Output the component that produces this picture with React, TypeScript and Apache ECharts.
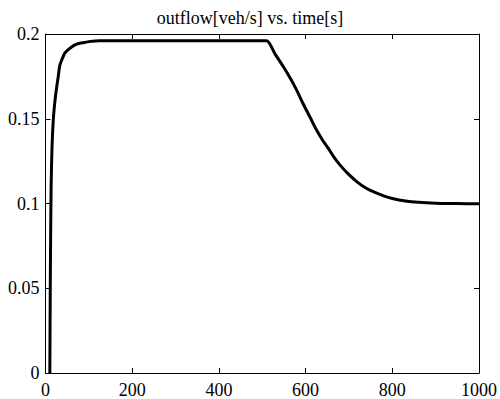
import React, { useEffect, useRef } from "react";
import * as echarts from "echarts";

const titleText = "outflow[veh/s] vs. time[s]";
const timeS = [10, 11, 12, 13, 15, 18, 22, 26, 30, 33, 38, 44, 49, 56, 64, 72, 79, 90, 100, 125, 150, 200, 300, 400, 500, 510, 530, 548, 560, 571, 583, 594, 610, 625, 640, 652, 665, 680, 700, 720, 740, 760, 780, 800, 830, 860, 900, 950, 1000];
const outflow = [0, 0.05, 0.085, 0.11, 0.133, 0.1495, 0.161, 0.169, 0.176, 0.1815, 0.185, 0.1885, 0.190, 0.1915, 0.193, 0.194, 0.1945, 0.195, 0.1955, 0.196, 0.196, 0.196, 0.196, 0.196, 0.196, 0.196, 0.188, 0.181, 0.176, 0.171, 0.165, 0.159, 0.151, 0.1435, 0.137, 0.1327, 0.1275, 0.1225, 0.117, 0.1125, 0.109, 0.1065, 0.1045, 0.103, 0.1015, 0.1007, 0.1002, 0.1, 0.0998];
const xTicks = { min: 0, max: 1000, interval: 200 };
const yTicks = { min: 0, max: 0.2, interval: 0.05 };

export default function App() {
  const ref = useRef<HTMLDivElement>(null);
  useEffect(() => {
    if (!ref.current) return;
    const chart = echarts.init(ref.current, null, { renderer: "svg" });
    const font = "Liberation Serif";
    const axisLine = { show: true, onZero: false, lineStyle: { color: "#000", width: 1 } };
    const tick = { show: true, inside: true, length: 5, lineStyle: { color: "#000", width: 1 } };
    const richLabel = {
      t: { fontFamily: font, fontSize: 18, color: "#000", fontWeight: "normal" },
    };
    chart.setOption({
      animation: false,
      backgroundColor: "#fff",
      textStyle: { fontFamily: font },
      title: {
        text: titleText,
        left: "center",
        top: 4,
        textStyle: { fontFamily: font, fontSize: 18, fontWeight: "normal", color: "#000" },
      },
      grid: { left: 45.5, right: 20.5, top: 34, bottom: 25, containLabel: false },
      xAxis: [
        {
          type: "value",
          position: "bottom",
          ...xTicks,
          axisLine,
          axisTick: tick,
          splitLine: { show: false },
          axisLabel: {
            fontFamily: font,
            fontSize: 18,
            color: "#000",
            margin: 8,
            formatter: (v: number) => "{t|" + String(v) + "}",
            rich: richLabel,
          },
        },
        {
          type: "value",
          position: "top",
          ...xTicks,
          axisLine,
          axisTick: tick,
          splitLine: { show: false },
          axisLabel: { show: false },
        },
      ],
      yAxis: [
        {
          type: "value",
          position: "left",
          ...yTicks,
          axisLine,
          axisTick: tick,
          splitLine: { show: false },
          axisLabel: {
            fontFamily: font,
            fontSize: 18,
            color: "#000",
            margin: 6,
            formatter: (v: number) => "{t|" + String(v) + "}",
            rich: richLabel,
          },
        },
        {
          type: "value",
          position: "right",
          ...yTicks,
          axisLine,
          axisTick: tick,
          splitLine: { show: false },
          axisLabel: { show: false },
        },
      ],
      series: [
        {
          type: "line",
          xAxisIndex: 0,
          yAxisIndex: 0,
          data: timeS.map((t, i) => [t, outflow[i]]),
          showSymbol: false,
          smooth: 0.3,
          lineStyle: { color: "#000", width: 3 },
        },
      ],
    });
    return () => chart.dispose();
  }, []);
  return <div ref={ref} style={{ position: "fixed", left: 0, top: 0, width: 500, height: 399 }} />;
}
